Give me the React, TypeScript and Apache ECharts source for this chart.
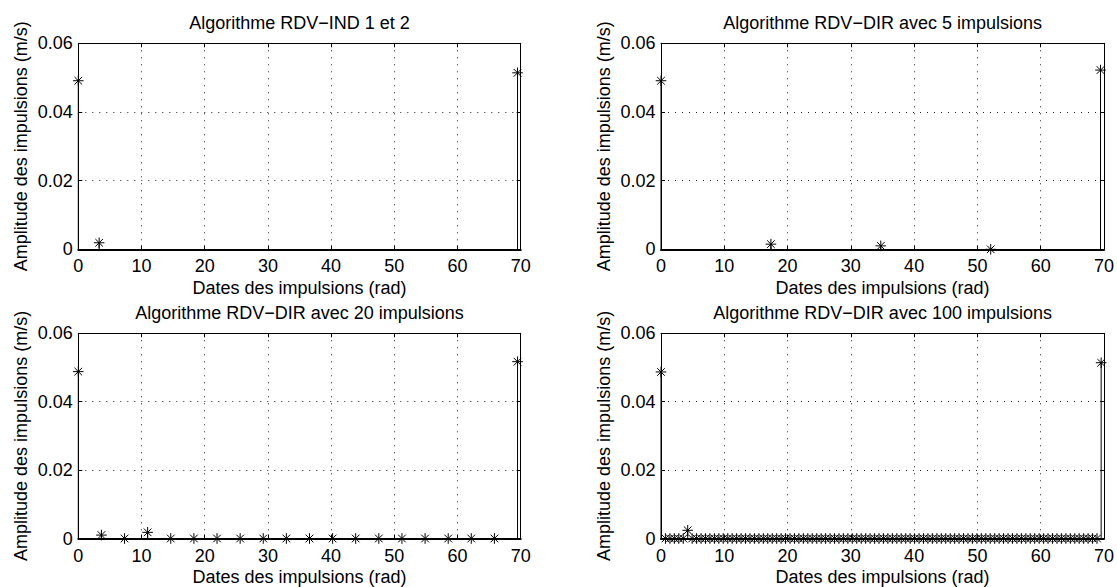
import React, { useEffect, useRef } from "react";
import * as echarts from "echarts";

const titles = [
  "Algorithme RDV\u2212IND 1 et 2",
  "Algorithme RDV\u2212DIR avec 5 impulsions",
  "Algorithme RDV\u2212DIR avec 20 impulsions",
  "Algorithme RDV\u2212DIR avec 100 impulsions",
];
const xName = "Dates des impulsions (rad)";
const yName = "Amplitude des impulsions (m/s)";

const xInd = [0, 3.3, 69.5];
const yInd = [0.0491, 0.0019, 0.0514];

const x5 = [0, 17.37, 34.73, 52.1, 69.45];
const y5 = [0.0491, 0.0015, 0.001, 0.0, 0.0522];

const x20 = [
  0, 3.66, 7.32, 10.97, 14.63, 18.29, 21.95, 25.61, 29.26, 32.92,
  36.58, 40.24, 43.89, 47.55, 51.21, 54.87, 58.53, 62.18, 65.84, 69.5,
];
const y20 = [
  0.0488, 0.001, 0, 0.0018, 0, 0, 0, 0, 0, 0,
  0, 0, 0, 0, 0, 0, 0, 0, 0, 0.0517,
];

const x100 = [
  0, 0.7, 1.41, 2.11, 2.81, 3.52, 4.22, 4.92, 5.62, 6.33,
  7.03, 7.73, 8.44, 9.14, 9.84, 10.55, 11.25, 11.95, 12.65, 13.36,
  14.06, 14.76, 15.47, 16.17, 16.87, 17.58, 18.28, 18.98, 19.68, 20.39,
  21.09, 21.79, 22.5, 23.2, 23.9, 24.61, 25.31, 26.01, 26.72, 27.42,
  28.12, 28.82, 29.53, 30.23, 30.93, 31.64, 32.34, 33.04, 33.75, 34.45,
  35.15, 35.85, 36.56, 37.26, 37.96, 38.67, 39.37, 40.07, 40.78, 41.48,
  42.18, 42.88, 43.59, 44.29, 44.99, 45.7, 46.4, 47.1, 47.81, 48.51,
  49.21, 49.92, 50.62, 51.32, 52.02, 52.73, 53.43, 54.13, 54.84, 55.54,
  56.24, 56.95, 57.65, 58.35, 59.05, 59.76, 60.46, 61.16, 61.87, 62.57,
  63.27, 63.98, 64.68, 65.38, 66.08, 66.79, 67.49, 68.19, 68.9, 69.55,
];
const y100 = [
  0.0487, 0, 0, 0, 0, 0, 0.0024, 0, 0, 0,
  0, 0, 0, 0, 0, 0, 0, 0, 0, 0,
  0, 0, 0, 0, 0, 0, 0, 0, 0, 0,
  0, 0, 0, 0, 0, 0, 0, 0, 0, 0,
  0, 0, 0, 0, 0, 0, 0, 0, 0, 0,
  0, 0, 0, 0, 0, 0, 0, 0, 0, 0,
  0, 0, 0, 0, 0, 0, 0, 0, 0, 0,
  0, 0, 0, 0, 0, 0, 0, 0, 0, 0,
  0, 0, 0, 0, 0, 0, 0, 0, 0, 0,
  0, 0, 0, 0, 0, 0, 0, 0, 0, 0.0514,
];

const panelsX = [xInd, x5, x20, x100];
const panelsY = [yInd, y5, y20, y100];

const FONT = "'Liberation Sans', Arial, Helvetica, sans-serif";
const FS = 18;

const grids = [
  { left: 78.3, top: 43.3, width: 442.4, height: 206 },
  { left: 661, top: 43.3, width: 443.3, height: 206 },
  { left: 78.3, top: 333.3, width: 442.4, height: 205.7 },
  { left: 661, top: 333.3, width: 443.3, height: 205.7 },
];

function buildOption() {
  const xAxis: any[] = [];
  const yAxis: any[] = [];
  const series: any[] = [];
  const title: any[] = [];
  const dotted = { type: [1, 6], color: "#222", width: 1 };
  grids.forEach((g, i) => {
    xAxis.push({
      type: "value",
      gridIndex: i,
      position: "bottom",
      min: 0,
      max: 70,
      interval: 10,
      name: xName,
      nameLocation: "middle",
      nameGap: 29.5,
      nameTextStyle: { color: "#000", fontSize: FS, fontFamily: FONT },
      axisLine: { show: true, onZero: false, lineStyle: { color: "#000", width: 2 } },
      axisTick: { show: true, inside: true, length: 4, lineStyle: { color: "#000" } },
      axisLabel: { color: "#000", fontSize: FS, fontFamily: FONT, margin: 8 },
      splitLine: { show: true, lineStyle: dotted },
    });
    xAxis.push({
      type: "value",
      gridIndex: i,
      position: "top",
      min: 0,
      max: 70,
      interval: 10,
      axisLine: { show: true, onZero: false, lineStyle: { color: "#000", width: 1 } },
      axisTick: { show: true, inside: true, length: 4, lineStyle: { color: "#000" } },
      axisLabel: { show: false },
      splitLine: { show: false },
    });
    yAxis.push({
      type: "value",
      gridIndex: i,
      position: "left",
      min: 0,
      max: 0.06,
      interval: 0.02,
      name: yName,
      nameLocation: "middle",
      nameGap: 48.5,
      nameTextStyle: { color: "#000", fontSize: FS, fontFamily: FONT },
      axisLine: { show: true, onZero: false, lineStyle: { color: "#000", width: 1 } },
      axisTick: { show: true, inside: true, length: 4, lineStyle: { color: "#000" } },
      axisLabel: { color: "#000", fontSize: FS, fontFamily: FONT, margin: 5.5 },
      splitLine: { show: true, lineStyle: dotted },
    });
    yAxis.push({
      type: "value",
      gridIndex: i,
      position: "right",
      min: 0,
      max: 0.06,
      interval: 0.02,
      axisLine: { show: true, onZero: false, lineStyle: { color: "#000", width: 1 } },
      axisTick: { show: true, inside: true, length: 4, lineStyle: { color: "#000" } },
      axisLabel: { show: false },
      splitLine: { show: false },
    });
    title.push({
      text: titles[i],
      left: g.left + g.width / 2,
      top: i < 2 ? 13.7 : 304.3,
      textAlign: "center",
      padding: 0,
      textStyle: { color: "#000", fontSize: FS, fontWeight: "normal", fontFamily: FONT },
    });
    const xs = panelsX[i];
    const ys = panelsY[i];
    series.push({
      type: "custom",
      xAxisIndex: 2 * i,
      yAxisIndex: 2 * i,
      clip: false,
      encode: { x: 0, y: 1 },
      data: xs.map((x, k) => [x, ys[k]]),
      renderItem: (params: any, api: any) => {
        const x = api.value(0);
        const y = api.value(1);
        const p = api.coord([x, y]);
        const b = api.coord([x, 0]);
        const r = 5.3;
        const d = r * 0.72;
        const style = { stroke: "#000", lineWidth: 1, fill: "none" };
        return {
          type: "group",
          children: [
            { type: "line", shape: { x1: b[0], y1: b[1], x2: p[0], y2: p[1] }, style },
            { type: "line", shape: { x1: p[0] - r, y1: p[1], x2: p[0] + r, y2: p[1] }, style },
            { type: "line", shape: { x1: p[0], y1: p[1] - r, x2: p[0], y2: p[1] + r }, style },
            { type: "line", shape: { x1: p[0] - d, y1: p[1] - d, x2: p[0] + d, y2: p[1] + d }, style },
            { type: "line", shape: { x1: p[0] - d, y1: p[1] + d, x2: p[0] + d, y2: p[1] - d }, style },
          ],
        };
      },
    });
  });
  return {
    animation: false,
    backgroundColor: "#fff",
    title,
    grid: grids.map((g) => ({ ...g, containLabel: false })),
    xAxis,
    yAxis,
    series,
  };
}

export default function App() {
  const ref = useRef<HTMLDivElement>(null);
  useEffect(() => {
    if (!ref.current) return;
    const chart = echarts.init(ref.current, undefined, { renderer: "svg" });
    chart.setOption(buildOption() as any);
    return () => chart.dispose();
  }, []);
  return (
    <div
      ref={ref}
      style={{ position: "absolute", left: 0, top: 0, width: 1117, height: 587, background: "#fff" }}
    />
  );
}
